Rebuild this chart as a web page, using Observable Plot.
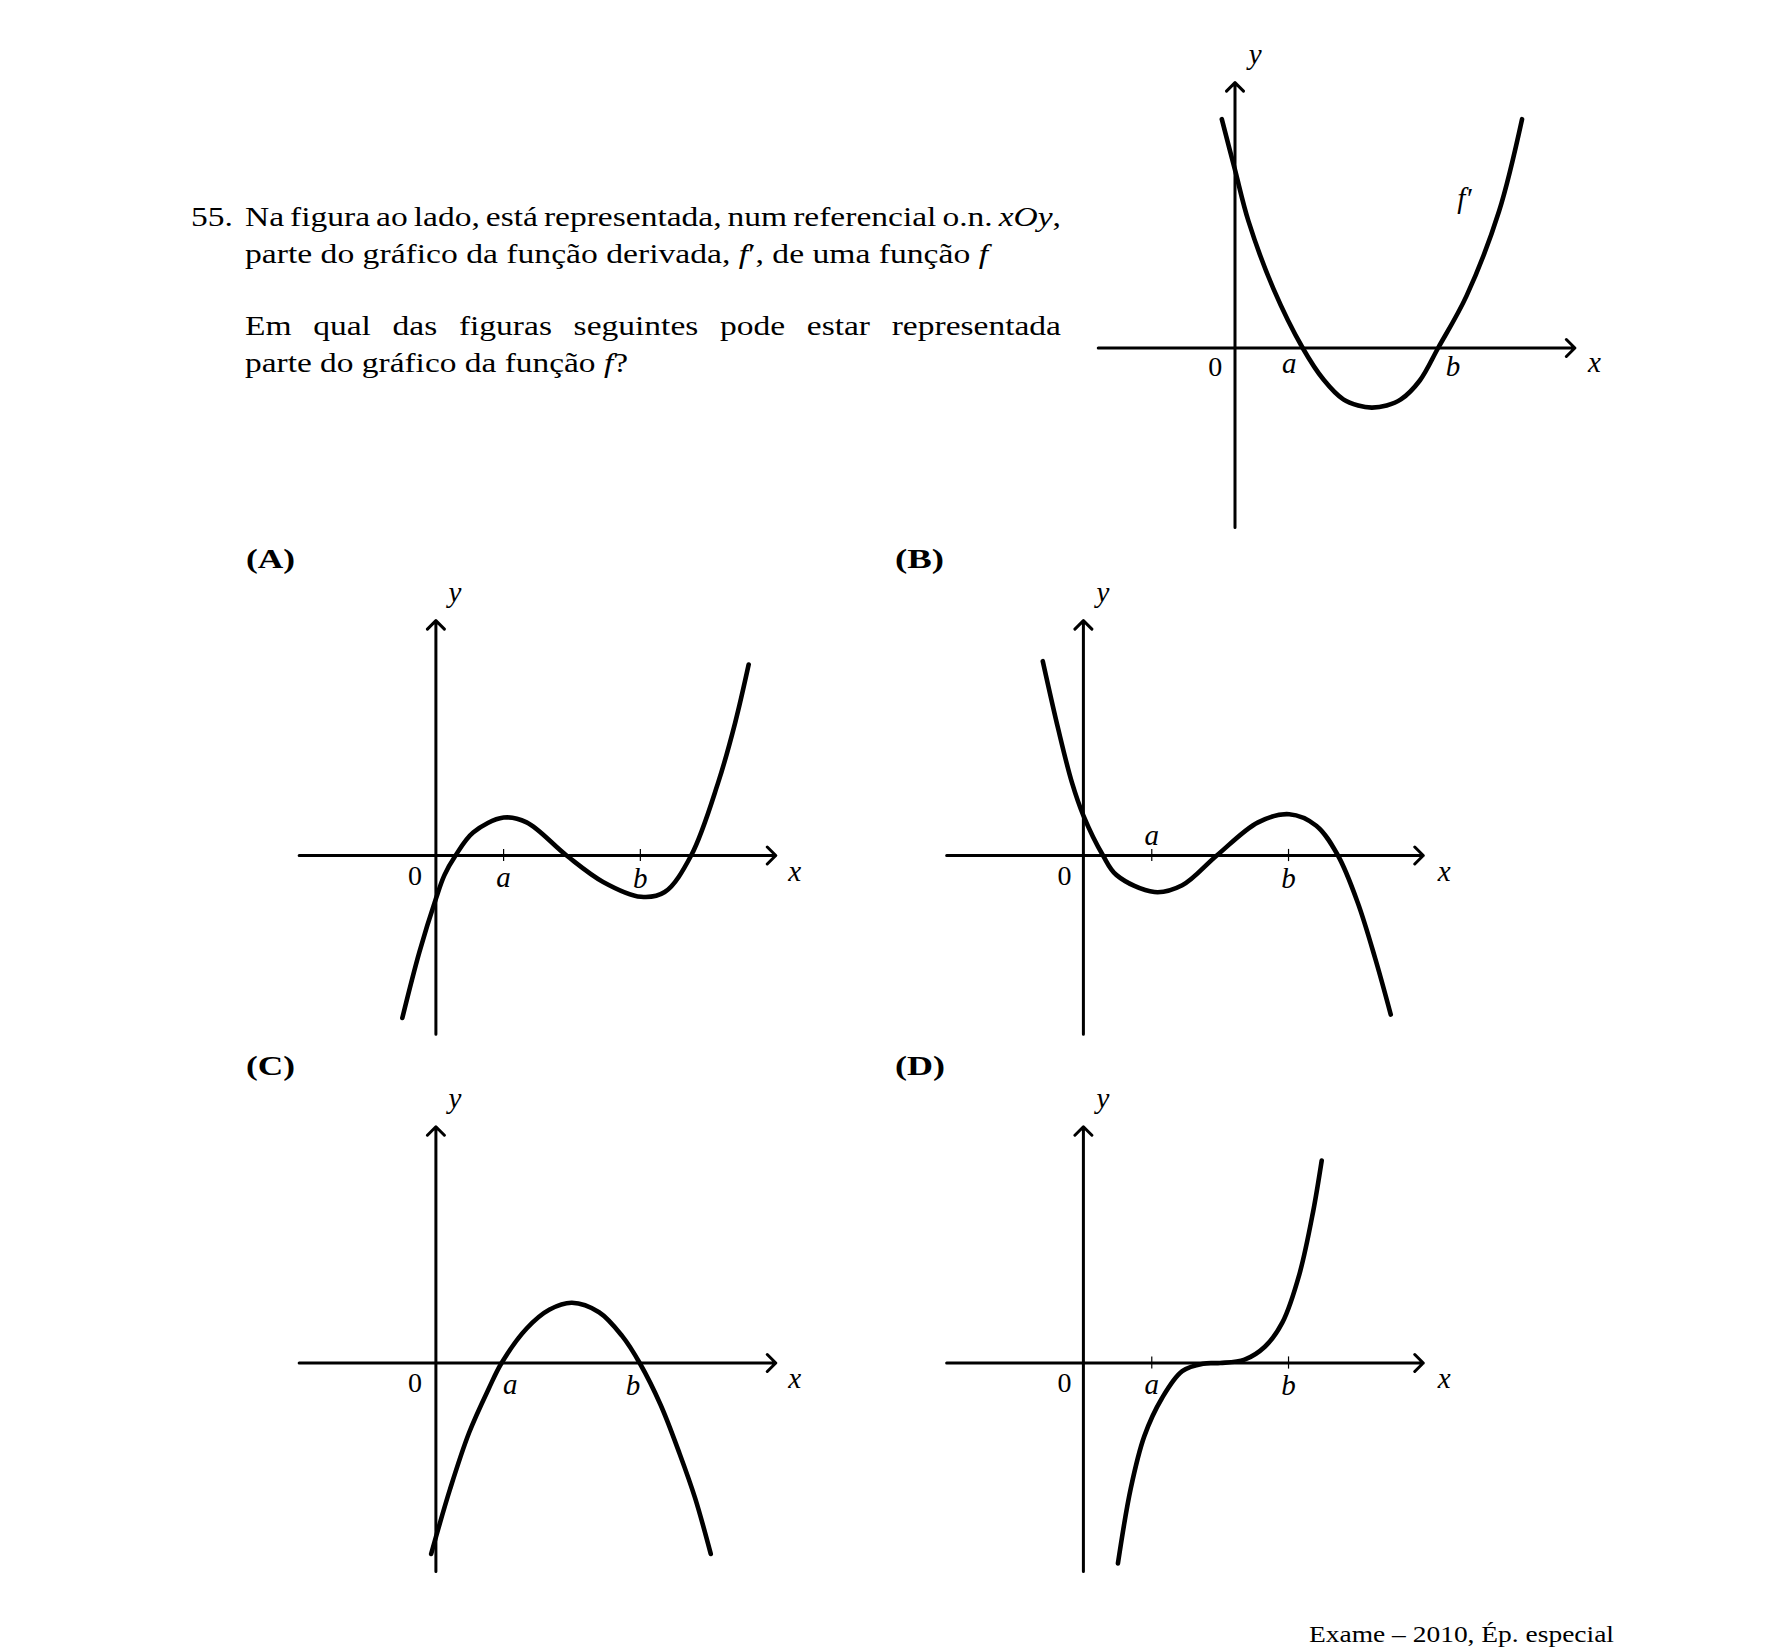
<!DOCTYPE html>
<html>
<head>
<meta charset="utf-8">
<script src="https://cdn.jsdelivr.net/npm/d3@7"></script>
<script src="https://cdn.jsdelivr.net/npm/@observablehq/plot@0.6"></script>
<style>
  html, body { margin: 0; padding: 0; background: #fff; }
  #page { position: relative; width: 1785px; height: 1650px; overflow: hidden; background: #fff;
          font-family: "Liberation Serif", "Times New Roman", serif; color: #000; }
  .ln { position: absolute; white-space: nowrap; transform-origin: 0 0; }
  .holder { position: absolute; }
</style>
</head>
<body>
<div id="page"></div>
<script>
// ---------------- DATA ----------------
// f' (reference figure): x in units where a = 1, b = 3
const fPrimeX = [-0.195, 0, 0.2, 0.57, 1, 1.31, 1.6, 1.82, 2.02, 2.24, 2.45, 2.73, 3, 3.42, 3.9, 4.24];
const fPrimeY = [3.38, 2.63, 1.87, 0.87, 0, -0.47, -0.76, -0.85, -0.88, -0.85, -0.76, -0.48, 0, 0.77, 2.02, 3.38];

// Option (A)
const optAX = [-0.496, -0.242, 0, 0.126, 0.29, 0.55, 1.0, 1.34, 1.93, 2.47, 3.03, 3.38, 3.77, 4.17, 4.42, 4.62];
const optAY = [-2.40, -1.42, -0.64, -0.29, 0, 0.34, 0.56, 0.49, 0, -0.39, -0.61, -0.54, 0, 1.08, 1.96, 2.82];

// Option (B)
const optBX = [-0.60, -0.37, -0.17, 0, 0.29, 0.49, 1.05, 1.46, 1.97, 2.58, 3.04, 3.44, 3.76, 4.05, 4.31, 4.54];
const optBY = [2.87, 1.86, 1.08, 0.59, 0, -0.29, -0.54, -0.44, 0, 0.49, 0.61, 0.44, 0, -0.69, -1.52, -2.35];

// Option (C)
const optCX = [-0.07, 0.21, 0.49, 0.78, 0.97, 1.34, 1.68, 2.01, 2.41, 2.75, 3.01, 3.32, 3.60, 3.83, 4.06];
const optCY = [-2.82, -1.86, -1.03, -0.38, 0, 0.51, 0.79, 0.89, 0.75, 0.40, 0, -0.62, -1.34, -2.0, -2.82];

// Option (D)
const optDX = [0.51, 0.70, 0.90, 1.16, 1.46, 1.77, 2.02, 2.38, 2.68, 2.94, 3.19, 3.39, 3.52];
const optDY = [-2.96, -1.85, -1.08, -0.52, -0.12, -0.01, 0, 0.05, 0.24, 0.60, 1.31, 2.22, 2.99];

// tick marks at a and b
const ticksA = [1.0, 3.02];
const ticksB = [1.01, 3.03];
const ticksD = [1.01, 3.03];

// axis labels
const topLabelText = ["0", "a", "b", "x", "y", "f\u2032"];
const topLabelX    = [-0.29, 0.80, 3.22, 5.31, 0.30, 3.39];
const topLabelY    = [-0.41, -0.37, -0.42, -0.36, 4.20, 2.07];

const aLabelText = ["0", "a", "b", "x", "y"];
const aLabelX    = [-0.31, 1.0, 3.02, 5.30, 0.28];
const aLabelY    = [-0.43, -0.465, -0.48, -0.37, 3.75];

const bLabelText = ["0", "a", "b", "x", "y"];
const bLabelX    = [-0.28, 1.01, 3.03, 5.33, 0.29];
const bLabelY    = [-0.43, 0.15, -0.48, -0.37, 3.75];

const cLabelText = ["0", "a", "b", "x", "y"];
const cLabelX    = [-0.31, 1.10, 2.91, 5.30, 0.28];
const cLabelY    = [-0.43, -0.465, -0.48, -0.37, 3.77];

const dLabelText = ["0", "a", "b", "x", "y"];
const dLabelX    = [-0.28, 1.01, 3.03, 5.33, 0.29];
const dLabelY    = [-0.43, -0.465, -0.48, -0.37, 3.77];

// axis extents (data units)
const xAxisExtent   = [-2.02, 5.02];
const yAxisTop      = [-2.65, 3.92];
const yAxisRowOne   = [-2.64, 3.47];
const yAxisRowTwo   = [-3.08, 3.49];

// ---------------- LAYOUT ----------------
const U = 67.7; // pixels per unit
const page = document.getElementById("page");

const panels = [
  {box: [1060, 20, 600, 520],  origin: [1234.5, 347.5], ya: yAxisTop,    cx: fPrimeX, cy: fPrimeY, ticks: [],     lt: topLabelText, lx: topLabelX, ly: topLabelY},
  {box: [240, 570, 600, 480],  origin: [435.4, 855],    ya: yAxisRowOne, cx: optAX,   cy: optAY,   ticks: ticksA, lt: aLabelText,   lx: aLabelX,   ly: aLabelY},
  {box: [888, 570, 600, 480],  origin: [1082.9, 855],   ya: yAxisRowOne, cx: optBX,   cy: optBY,   ticks: ticksB, lt: bLabelText,   lx: bLabelX,   ly: bLabelY},
  {box: [240, 1080, 600, 510], origin: [435.4, 1362.5], ya: yAxisRowTwo, cx: optCX,   cy: optCY,   ticks: [],     lt: cLabelText,   lx: cLabelX,   ly: cLabelY},
  {box: [888, 1080, 600, 510], origin: [1082.9, 1362.5],ya: yAxisRowTwo, cx: optDX,   cy: optDY,   ticks: ticksD, lt: dLabelText,   lx: dLabelX,   ly: dLabelY}
];

function drawPanel(cfg) {
  const [left, top, w, h] = cfg.box;
  const [ox, oy] = cfg.origin;
  const xd = [(left - ox) / U, (left + w - ox) / U];
  const yd = [(oy - (top + h)) / U, (oy - top) / U];
  const pts = cfg.cx.map((x, i) => ({x, y: cfg.cy[i]}));
  const labs = cfg.lt.map((t, i) => ({t, x: cfg.lx[i], y: cfg.ly[i]}));
  const axisStyle = {x1: "x1", y1: "y1", x2: "x2", y2: "y2", stroke: "black", strokeWidth: 3,
                     headAngle: 90, headLength: 6, strokeLinejoin: "round"};
  const marks = [
    Plot.arrow([{x1: xAxisExtent[0], y1: 0, x2: xAxisExtent[1], y2: 0}], axisStyle),
    Plot.arrow([{x1: 0, y1: cfg.ya[0], x2: 0, y2: cfg.ya[1]}], axisStyle),
    Plot.ruleX(cfg.ticks, {x: d => d, y1: () => -0.09, y2: () => 0.09, stroke: "black", strokeWidth: 1.2}),
    Plot.line(pts, {x: "x", y: "y", curve: "catmull-rom", stroke: "black", strokeWidth: 4.6,
                    strokeLinecap: "round", strokeLinejoin: "round"}),
    Plot.text(labs.filter(d => d.t === "0"), {x: "x", y: "y", text: "t", fontSize: 28,
                    fontFamily: "Liberation Serif", lineAnchor: "bottom", fill: "black"}),
    Plot.text(labs.filter(d => d.t !== "0"), {x: "x", y: "y", text: "t", fontSize: 29, fontStyle: "italic",
                    fontFamily: "Liberation Serif", lineAnchor: "bottom", fill: "black"})
  ];
  const svg = Plot.plot({
    width: w, height: h,
    marginTop: 0, marginRight: 0, marginBottom: 0, marginLeft: 0,
    x: {domain: xd, axis: null},
    y: {domain: yd, axis: null},
    style: {overflow: "visible", background: "transparent"},
    marks
  });
  const holder = document.createElement("div");
  holder.className = "holder";
  holder.style.left = left + "px";
  holder.style.top = top + "px";
  holder.style.width = w + "px";
  holder.style.height = h + "px";
  holder.appendChild(svg);
  page.appendChild(holder);
}
panels.forEach(drawPanel);

// ---------------- TEXT ----------------
function makeLine(html, x, base, fs, bold) {
  const d = document.createElement("div");
  d.className = "ln";
  d.style.fontSize = fs + "px";
  d.style.lineHeight = fs + "px";
  if (bold) d.style.fontWeight = "bold";
  d.innerHTML = html;
  d.style.left = x + "px";
  d.style.top = (base - 0.8375 * fs) + "px";
  page.appendChild(d);
  return d;
}
function naturalWidth(d) { return d.getBoundingClientRect().width; }

const FS = 27;
// [html, left, baseline, target width, justified]
const paraLines = [
  ["Na figura ao lado, está representada, num referencial o.n. <i>xOy</i>,", 245, 226.5, 816, true],
  ["parte do gráfico da função derivada, <i>f</i>\u2032, de uma função <i>f</i>", 245, 264, 743, false],
  ["Em qual das figuras seguintes pode estar representada", 245, 336, 816, true],
  ["parte do gráfico da função <i>f</i>?", 245, 372.5, 383, false]
];
const lineEls = paraLines.map(l => makeLine(l[0], l[1], l[2], FS, false));
const ks = paraLines.map((l, i) => l[4] ? null : l[3] / naturalWidth(lineEls[i])).filter(k => k);
const kAvg = ks.reduce((a, b) => a + b, 0) / ks.length;
paraLines.forEach((l, i) => {
  const el = lineEls[i];
  if (l[4]) {
    const nat = naturalWidth(el);
    const spaces = (el.textContent.match(/ /g) || []).length;
    const extra = (l[3] / kAvg - nat) / spaces;
    el.style.wordSpacing = extra + "px";
    el.style.transform = `scaleX(${kAvg})`;
  } else {
    el.style.transform = `scaleX(${l[3] / naturalWidth(el)})`;
  }
});
const num = makeLine("55.", 191, 226.5, FS, false);
num.style.transform = `scaleX(${kAvg})`;

// option titles: [text, left, baseline, width]
const titles = [["(A)", 246, 569, 49], ["(B)", 895, 569, 49], ["(C)", 246, 1076, 49], ["(D)", 895, 1076, 50]];
titles.forEach(t => {
  const el = makeLine(t[0], t[1], t[2], 27, true);
  el.style.transform = `scaleX(${t[3] / naturalWidth(el)})`;
});

// source caption
const cap = makeLine("Exame \u2013 2010, Ép. especial", 1309, 1642, 23, false);
cap.style.transform = `scaleX(${305 / naturalWidth(cap)})`;
</script>
</body>
</html>
